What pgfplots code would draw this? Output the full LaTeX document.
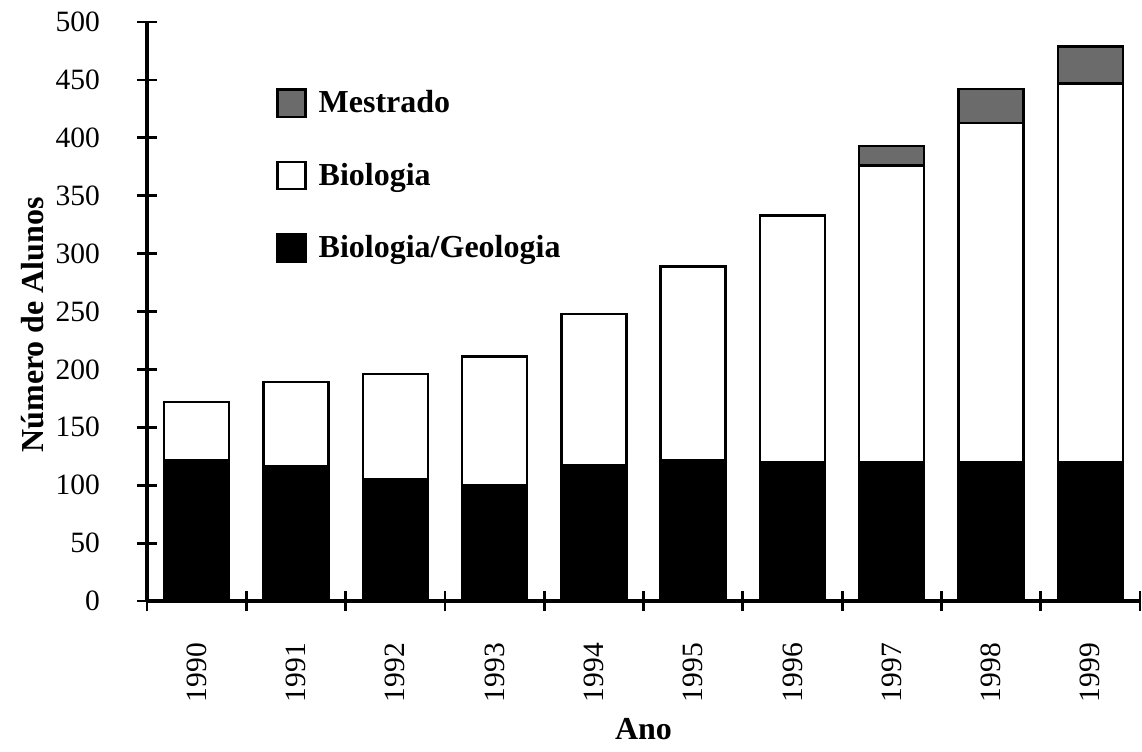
\documentclass[border=0pt]{standalone}
\usepackage{fontspec}
\setmainfont{Liberation Serif}
\usepackage{pgfplots}
\usepackage{pgfplotstable}
\pgfplotsset{compat=1.18}
\pgfplotstableread{
x bg bio mest
0 122 50 0
1 116 73 0
2 105 91 0
3 100 111 0
4 117 131 0
5 122 167 0
6 120 213 0
7 120 256 17
8 120 293 29
9 120 327 32
}\data
\begin{document}
\begin{tikzpicture}
\begin{axis}[
  at={(0,0)}, anchor=south west,
  scale only axis,
  width=496.5pt, height=289.5pt,
  ybar stacked, bar width=32.5pt,
  xmin=-0.5, xmax=9.5, ymin=0, ymax=500,
  axis x line=bottom, axis y line=left,
  axis line style={-, line width=1.7pt},
  xtick={0,...,9},
  xticklabels={1990,1991,1992,1993,1994,1995,1996,1997,1998,1999},
  minor xtick={-0.5,0.5,...,9.5},
  major x tick style={draw=none},
  minor x tick style={line width=1.4pt, black},
  minor tick length=10pt,
  ytick={0,50,...,500},
  major tick length=10pt,
  ytick style={line width=1.4pt, black},
  tick align=center,
  /pgf/number format/assume math mode=true,
  /pgf/number format/.cd, 1000 sep={}, /pgfplots/.cd,
  xticklabel style={rotate=90, anchor=east, font=\fontsize{14.75}{16}\selectfont},
  yticklabel style={font=\fontsize{14.75}{16}\selectfont},
  xticklabel shift=12.5pt,
  yticklabel shift=15pt,
  ylabel={\textbf{Número de Alunos}},
  ylabel style={at={(axis description cs:-0.1148,0.477)}, anchor=center, rotate=0, font=\fontsize{16}{18}\selectfont},
  xlabel={\textbf{Ano}},
  xlabel style={at={(axis description cs:0.5,-0.222)}, anchor=center, font=\fontsize{16}{18}\selectfont},
  legend style={at={(axis description cs:0.130,0.886)}, anchor=north west, draw=none, fill=none,
    inner xsep=0pt, inner ysep=0pt, row sep=21.5pt, column sep=6pt,
    nodes={inner sep=0pt}, font=\bfseries\fontsize{16}{18}\selectfont},
  legend cell align=left,
  reverse legend,
  sq/.style={legend image code/.code={\draw[##1, line width=1.1pt] (0pt,-6.8pt) rectangle (14pt,6.8pt);}},
]
\addplot[fill=black, draw=black, line width=1.2pt, sq] table[x=x, y=bg] {\data};
\addlegendentry{Biologia/Geologia}
\addplot[fill=white, draw=black, line width=1.2pt, sq] table[x=x, y=bio] {\data};
\addlegendentry{Biologia}
\addplot[fill=black!58, draw=black, line width=1.2pt, sq] table[x=x, y=mest] {\data};
\addlegendentry{Mestrado}
\end{axis}
\pgfresetboundingbox
\path[use as bounding box] (-73.5pt,-75pt) rectangle (497.5pt,300.5pt);
\end{tikzpicture}
\end{document}
